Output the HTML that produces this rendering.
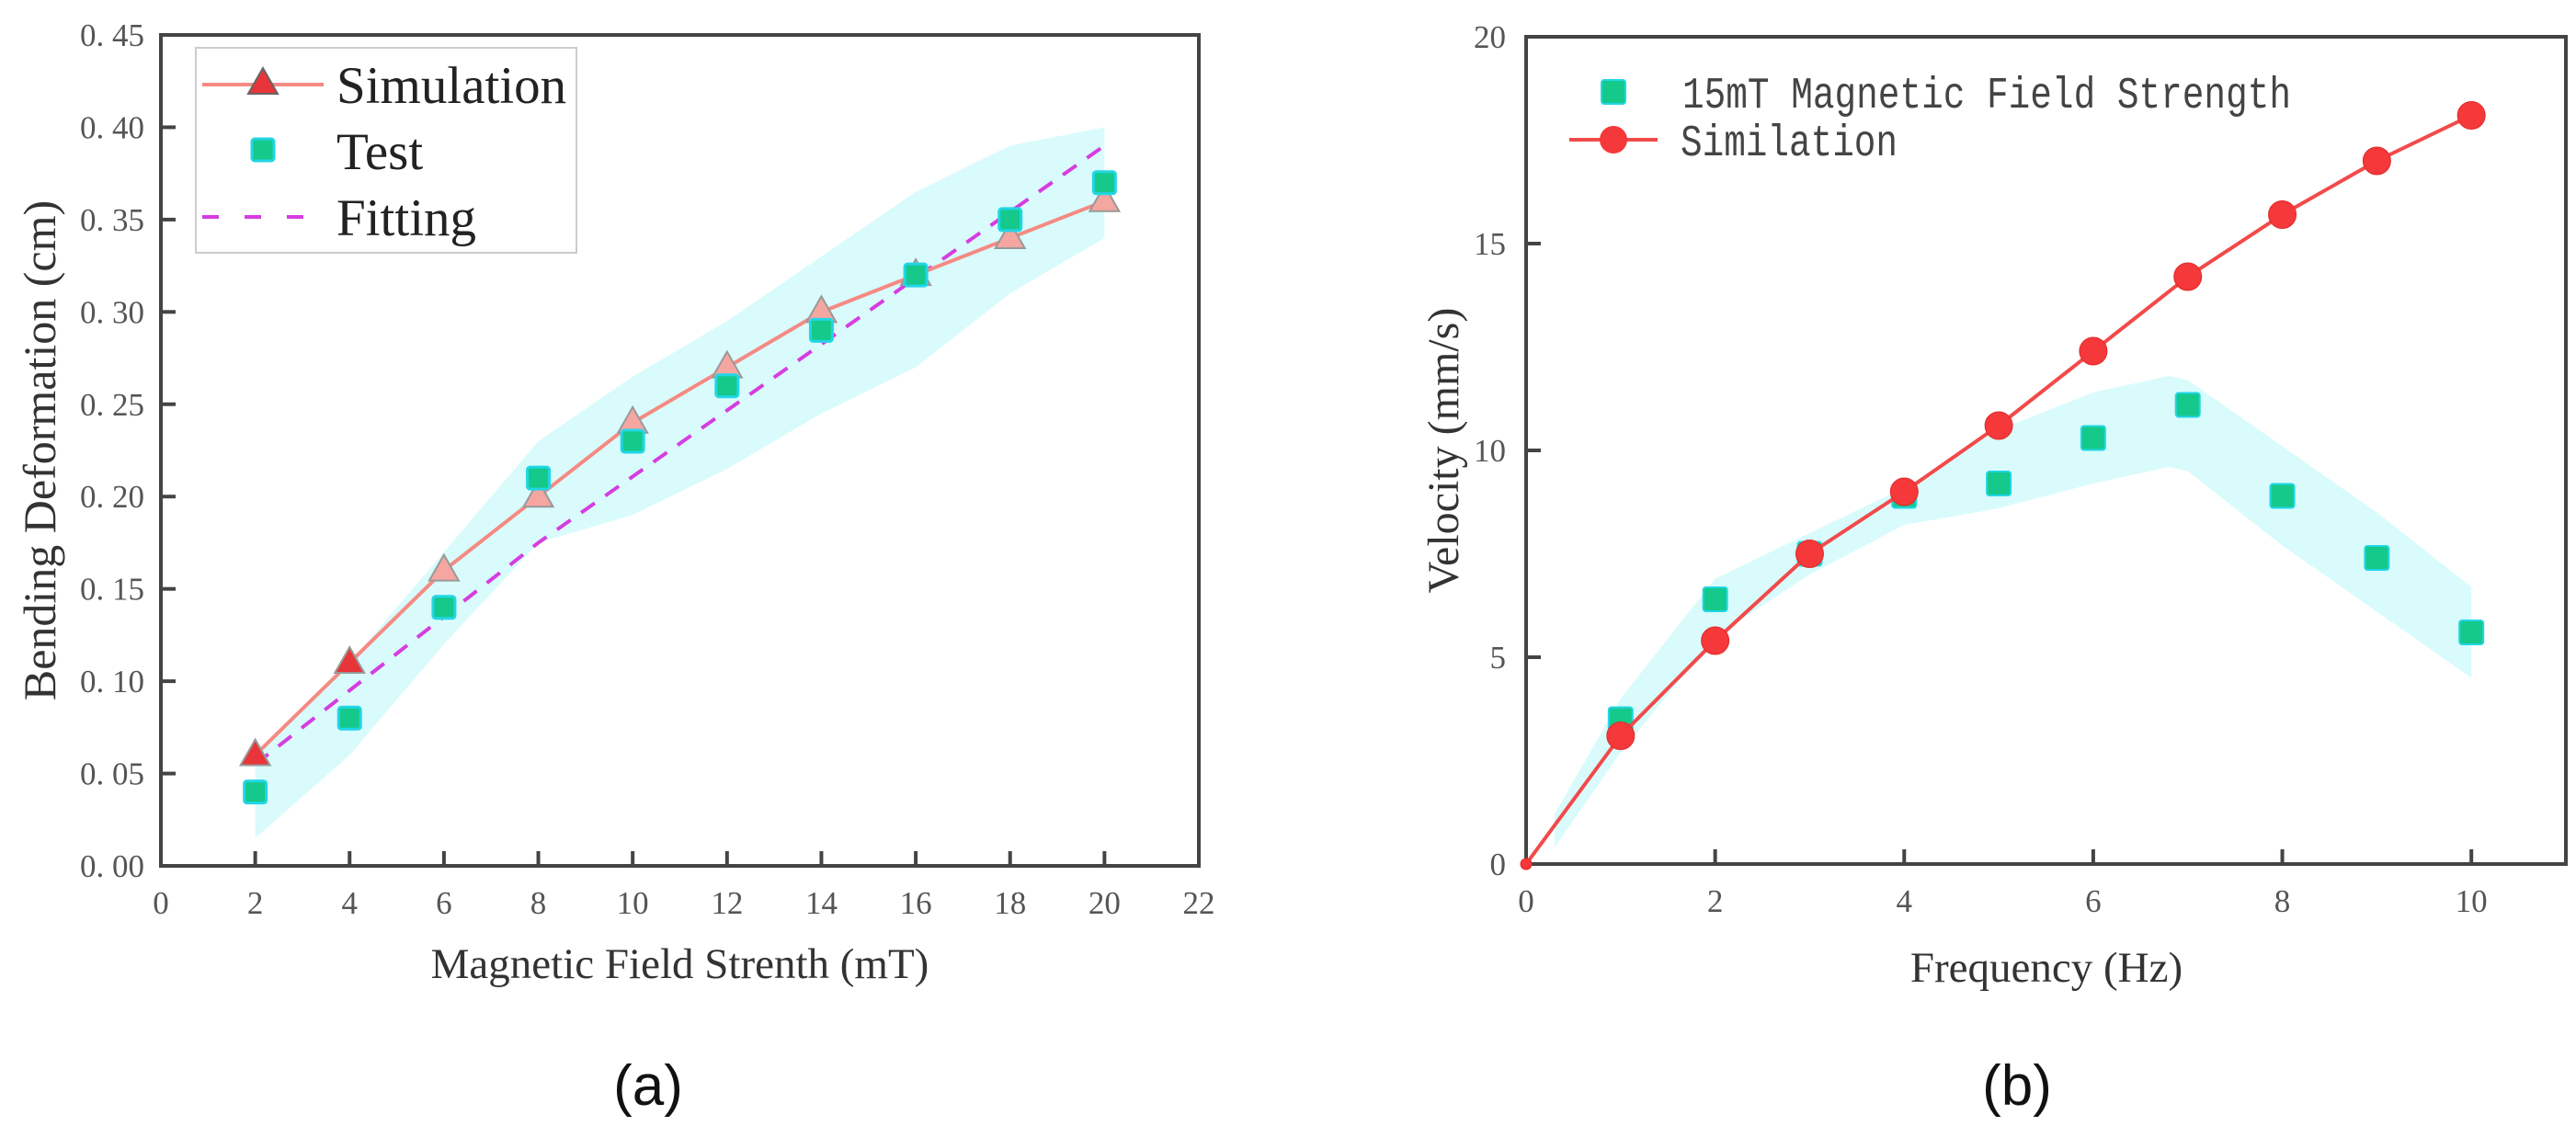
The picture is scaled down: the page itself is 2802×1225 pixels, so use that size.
<!DOCTYPE html>
<html><head><meta charset="utf-8"><style>
html,body{margin:0;padding:0;background:#fff;}
svg{display:block;}
</style></head><body>
<svg id="fig" width="2802" height="1225" viewBox="0 0 2802 1225" xmlns="http://www.w3.org/2000/svg">
<g id="ca"></g>
<g id="cb"></g>
</svg>
<script>
// ---- Chart (a) data ----
const aX = [2,4,6,8,10,12,14,16,18,20];
const aSim = [0.06,0.11,0.16,0.20,0.24,0.27,0.30,0.32,0.34,0.36];
const aTest = [0.04,0.08,0.14,0.21,0.23,0.26,0.29,0.32,0.35,0.37];
const aFitX = [2,8,20];
const aFitY = [0.055,0.175,0.39];
const aBandUpper = [0.06,0.11,0.17,0.23,0.265,0.295,0.33,0.365,0.39,0.40];
const aBandLower = [0.015,0.06,0.12,0.175,0.19,0.215,0.245,0.27,0.31,0.34];
const aYTicks = ["0. 00","0. 05","0. 10","0. 15","0. 20","0. 25","0. 30","0. 35","0. 40","0. 45"];
const aXTicks = [0,2,4,6,8,10,12,14,16,18,20,22];
// ---- Chart (b) data ----
const bSimX = [0,1,2,3,4,5,6,7,8,9,10];
const bSim = [0,3.1,5.4,7.5,9.0,10.6,12.4,14.2,15.7,17.0,18.1];
const bTestX = [1,2,3,4,5,6,7,8,9,10];
const bTest = [3.5,6.4,7.5,8.9,9.2,10.3,11.1,8.9,7.4,5.6];
const bBandUX = [0.3,1,2,3,4,5,6,6.8,7,8,9,10];
const bBandU = [1.2,4.0,6.9,8.0,9.1,10.5,11.4,11.8,11.7,10.1,8.5,6.7];
const bBandLX = [0.3,1,2,3,4,5,6,6.8,7,8,9,10];
const bBandL = [0.4,2.7,5.5,7.0,8.2,8.6,9.2,9.6,9.5,7.7,6.1,4.5];
const bYTicks = [0,5,10,15,20];
const bXTicks = [0,2,4,6,8,10];

const NS="http://www.w3.org/2000/svg";
function mk(parent,tag,attrs,text){const e=document.createElementNS(NS,tag);for(const k in attrs)e.setAttribute(k,attrs[k]);if(text!==undefined)e.textContent=text;parent.appendChild(e);return e;}
const SERIF='"Liberation Serif", serif';

// ===== Chart A =====
(function(){
const g=document.getElementById('ca');
const L=175,R=1304,T=38,B=942;
const sx=v=>L+(v-0)/22*(R-L);
const sy=v=>B-(v/0.45)*(B-T);
let d='M'+aX.map((x,i)=>sx(x)+','+sy(aBandUpper[i])).join(' L');
for(let i=aX.length-1;i>=0;i--) d+=' L'+sx(aX[i])+','+sy(aBandLower[i]);
let band=mk(g,'path',{d:d+'Z',fill:'#d9fbfc',stroke:'none'});


let fr=mk(g,'rect',{x:L,y:T,width:R-L,height:B-T,fill:'none',stroke:'#444',"stroke-width":4});


aYTicks.forEach((t,i)=>{const v=i*0.05;const y=sy(v);
 mk(g,'line',{x1:L,x2:L+16,y1:y,y2:y,stroke:'#444',"stroke-width":4});
 const tx=mk(g,'text',{x:L-18,y:y+12,"text-anchor":"end","font-family":SERIF,"font-size":35,fill:'#555'},t);
 
 
});
aXTicks.forEach(v=>{const x=sx(v);
 mk(g,'line',{x1:x,x2:x,y1:B,y2:B-16,stroke:'#444',"stroke-width":4});
 const tx=mk(g,'text',{x:x,y:B+52,"text-anchor":"middle","font-family":SERIF,"font-size":35,fill:'#555'},v);
 
 
});
let xt=mk(g,'text',{x:(L+R)/2,y:1064,"text-anchor":"middle","font-family":SERIF,"font-size":47,fill:'#333'},'Magnetic Field Strenth (mT)');


let yt=mk(g,'text',{x:0,y:0,transform:'translate(60,'+(T+B)/2+') rotate(-90)',"text-anchor":"middle","font-family":SERIF,"font-size":50,fill:'#333'},'Bending Deformation (cm)');


let fit=mk(g,'polyline',{points:aFitX.map((x,i)=>sx(x)+','+sy(aFitY[i])).join(' '),fill:'none',stroke:'#d63de0',"stroke-width":4,"stroke-dasharray":"18,14"});


let sl=mk(g,'polyline',{points:aX.map((x,i)=>sx(x)+','+sy(aSim[i])).join(' '),fill:'none',stroke:'#f58a82',"stroke-width":4});


aX.forEach((x,i)=>{const cx=sx(x),cy=sy(aSim[i]);
 const tr=mk(g,'path',{d:`M${cx},${cy-17} L${cx+16},${cy+11} L${cx-16},${cy+11}Z`,fill:i<2?'#e8353a':'#f5a6a0',stroke:'#999',"stroke-width":2});
 
 
});
aX.forEach((x,i)=>{const cx=sx(x),cy=sy(aTest[i]);
 const r=mk(g,'rect',{x:cx-12,y:cy-12,width:24,height:24,rx:3,fill:'#14c98a',stroke:'#22d6e6',"stroke-width":3});
 
 
});
const lg=mk(g,'g',{});


mk(lg,'rect',{x:213,y:52,width:414,height:223,fill:'#fff',stroke:'#ccc',"stroke-width":2});
mk(lg,'line',{x1:220,x2:352,y1:92,y2:92,stroke:'#f58a82',"stroke-width":4});
mk(lg,'path',{d:'M286,74 L302,102 L270,102Z',fill:'#e8353a',stroke:'#666',"stroke-width":2});
mk(lg,'text',{x:366,y:112,"font-family":SERIF,"font-size":57,fill:'#222'},'Simulation');
mk(lg,'rect',{x:274,y:151,width:24,height:24,rx:3,fill:'#14c98a',stroke:'#22d6e6',"stroke-width":3});
mk(lg,'text',{x:366,y:184,"font-family":SERIF,"font-size":57,fill:'#222'},'Test');
mk(lg,'line',{x1:220,x2:336,y1:236,y2:236,stroke:'#d63de0',"stroke-width":4,"stroke-dasharray":"18,28"});
mk(lg,'text',{x:366,y:256,"font-family":SERIF,"font-size":57,fill:'#222'},'Fitting');
let cap=mk(g,'text',{x:705,y:1202,"text-anchor":"middle","font-family":'"Liberation Sans", sans-serif',"font-size":62,fill:'#111'},'(a)');


})();

// ===== Chart B =====
(function(){
const g=document.getElementById('cb');
const L=1660,R=2791,T=40,B=940;
const sx=v=>L+v/11*(R-L);
const sy=v=>B-v/20*(B-T);
let d='M'+bBandUX.map((x,i)=>sx(x)+','+sy(bBandU[i])).join(' L');
for(let i=bBandLX.length-1;i>=0;i--) d+=' L'+sx(bBandLX[i])+','+sy(bBandL[i]);
let band=mk(g,'path',{d:d+'Z',fill:'#d9fbfc',stroke:'none'});


let fr=mk(g,'rect',{x:L,y:T,width:R-L,height:B-T,fill:'none',stroke:'#444',"stroke-width":4});


bYTicks.forEach(v=>{const y=sy(v);
 mk(g,'line',{x1:L,x2:L+16,y1:y,y2:y,stroke:'#444',"stroke-width":4});
 const tx=mk(g,'text',{x:L-22,y:y+12,"text-anchor":"end","font-family":SERIF,"font-size":35,fill:'#555'},v);
 
 
});
bXTicks.forEach(v=>{const x=sx(v);
 mk(g,'line',{x1:x,x2:x,y1:B,y2:B-16,stroke:'#444',"stroke-width":4});
 const tx=mk(g,'text',{x:x,y:B+52,"text-anchor":"middle","font-family":SERIF,"font-size":35,fill:'#555'},v);
 
 
});
let xt=mk(g,'text',{x:2226,y:1068,"text-anchor":"middle","font-family":SERIF,"font-size":47,fill:'#333'},'Frequency (Hz)');


let yt=mk(g,'text',{x:0,y:0,transform:'translate(1586,'+(T+B)/2+') rotate(-90)',"text-anchor":"middle","font-family":SERIF,"font-size":48,fill:'#333'},'Velocity (mm/s)');


bTestX.forEach((x,i)=>{const cx=sx(x),cy=sy(bTest[i]);
 const r=mk(g,'rect',{x:cx-13,y:cy-13,width:26,height:26,rx:3,fill:'#14c98a',stroke:'#22d6e6',"stroke-width":2});
 
 
});
let sl=mk(g,'polyline',{points:bSimX.map((x,i)=>sx(x)+','+sy(bSim[i])).join(' '),fill:'none',stroke:'#f24a4a',"stroke-width":4});


bSimX.forEach((x,i)=>{
 const c=mk(g,'circle',{cx:sx(x),cy:sy(bSim[i]),r:i===0?6:15,fill:'#f5383a',stroke:'#e02a2a',"stroke-width":1});
 
 
});
const lg=mk(g,'g',{});


mk(lg,'rect',{x:1742,y:87,width:26,height:26,rx:3,fill:'#14c98a',stroke:'#22d6e6',"stroke-width":2});
mk(lg,'text',{x:1830,y:117,"font-family":'"Liberation Mono", monospace',"font-size":48,fill:'#444',textLength:662,lengthAdjust:'spacingAndGlyphs'},'15mT Magnetic Field Strength');
mk(lg,'line',{x1:1707,x2:1803,y1:152,y2:152,stroke:'#f24a4a',"stroke-width":4});
mk(lg,'circle',{cx:1755,cy:152,r:15,fill:'#f5383a'});
mk(lg,'text',{x:1828,y:169,"font-family":'"Liberation Mono", monospace',"font-size":48,fill:'#444',textLength:236,lengthAdjust:'spacingAndGlyphs'},'Similation');
let cap=mk(g,'text',{x:2194,y:1202,"text-anchor":"middle","font-family":'"Liberation Sans", sans-serif',"font-size":62,fill:'#111'},'(b)');


})();
</script>
</body></html>
